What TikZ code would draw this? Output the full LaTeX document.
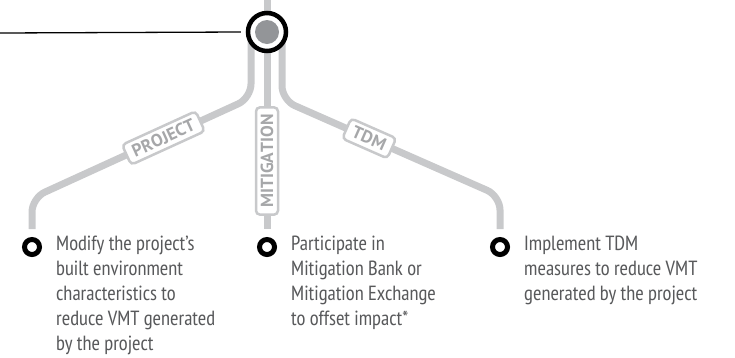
\documentclass[tikz,border=0pt]{standalone}
\usepackage{fontspec}
\setmainfont{PT Sans Narrow}
\newfontfamily\tagfont[Kerning=Off]{PT Sans}
\usetikzlibrary{calc,positioning}
\definecolor{trackgray}{HTML}{C8C9CB}
\definecolor{taggray}{HTML}{A6A7A9}
\definecolor{textgray}{HTML}{58595B}
\definecolor{hubgray}{HTML}{939598}

\begin{document}
\begin{tikzpicture}[
x=1pt, y=-1pt,
track/.style={draw=trackgray, line width=7pt},
tag/.style={
	draw=trackgray, line width=2.5pt, fill=white,
	rounded corners=4pt, text=taggray,
	font=\tagfont\bfseries\fontsize{17.5}{17.5}\selectfont,
	minimum height=22pt, inner xsep=7pt, inner ysep=0pt
},
dot/.style={circle, draw=black, line width=5pt, fill=white, minimum size=15pt, inner sep=0pt},
desc/.style={anchor=north west, align=left, inner sep=0pt, text=textgray, font=\fontsize{20.5}{25}\selectfont}
]
\useasboundingbox (0,0) rectangle (735,357);
\coordinate (topc) at (267,-4);
\coordinate (hubc) at (267,32);
\coordinate (lead) at (0,33);
\node[dot] (projdot) at (32,247) {};
\node[dot] (mitdot) at (267,247) {};
\node[dot] (tdmdot) at (500,247) {};
% tracks
\draw[track] (topc) -- (hubc);
\draw[track] (hubc) -- ([yshift=8pt]mitdot.north);
\draw[track, rounded corners=14pt] ($(hubc)+(-16,0)$) -- ++(0,66)
	-- node[tag, sloped, pos=0.40] (projtag) {PROJECT} ($(projdot.center)+(0,-49)$)
	-- ([yshift=8pt]projdot.north);
\draw[track, rounded corners=14pt] ($(hubc)+(15,0)$) -- ++(0,68)
	-- node[tag, sloped, pos=0.40] (tdmtag) {TDM} ($(tdmdot.center)+(0,-51)$)
	-- ([yshift=8pt]tdmdot.north);
\node[tag, rotate=90] (mittag) at (267,161) {MITIGATION};
% hub
\node[circle, draw=black, line width=4.5pt, fill=white, minimum size=38pt, inner sep=0pt] (hub) at (hubc) {};
\fill[hubgray] (hub.center) circle (12pt);
\draw[line width=1.3pt] (lead) -- ([xshift=-5pt]hub.west);
% texts
\node[desc] (projtext) at ($(projdot.center)+(24,-11)$) {Modify the project’s\\built environment\\characteristics to\\reduce VMT generated\\by the project};
\node[desc] (mittext) at ($(mitdot.center)+(24,-11)$) {Participate in\\Mitigation Bank or\\Mitigation Exchange\\to offset impact*};
\node[desc] (tdmtext) at ($(tdmdot.center)+(24,-11)$) {Implement TDM\\measures to reduce VMT\\generated by the project};
\end{tikzpicture}
\end{document}
